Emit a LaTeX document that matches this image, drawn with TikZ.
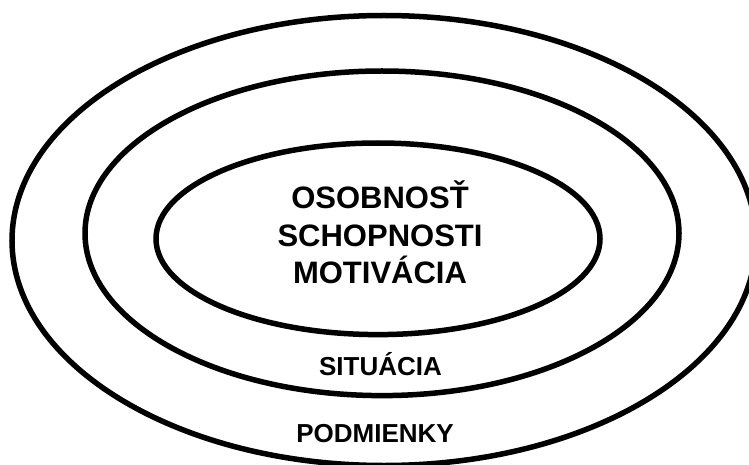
\documentclass[tikz,border=0pt]{standalone}
\usepackage{fontspec}
\setmainfont{Liberation Sans}
\usepackage{tikz}
\usetikzlibrary{math}

\tikzset{
	ring/.style={draw=black,line width=5.5pt},
	coreText/.style={font=\bfseries\fontsize{31}{37}\selectfont,anchor=base,inner sep=0pt},
	ringText/.style={font=\bfseries\fontsize{26}{31}\selectfont,anchor=base,inner sep=0pt}
}

\begin{document}
\begin{tikzpicture}[x=1pt,y=-1pt]
\useasboundingbox (0,0) rectangle (749,465);
\clip (0,0) rectangle (749,465);
% rings: outer, middle, inner
\foreach \cx/\cy/\rx/\ry in {384/240.5/372/225, 382/233.3/297/162.3, 378/238.8/222/95.8} {
	\draw[ring] (\cx,\cy) ellipse [x radius=\rx pt, y radius=\ry pt];
}
% core
\node[coreText] (osobnost) at (380,208) {OSOBNOSŤ};
\node[coreText] (schopnosti) at (380,246.5) {SCHOPNOSTI};
\node[coreText] (motivacia) at (380,283) {MOTIVÁCIA};
% outer rings
\node[ringText] (situacia) at (380.5,375) {SITUÁCIA};
\node[ringText] (podmienky) at (375,442) {PODMIENKY};
%
\end{tikzpicture}
\end{document}
